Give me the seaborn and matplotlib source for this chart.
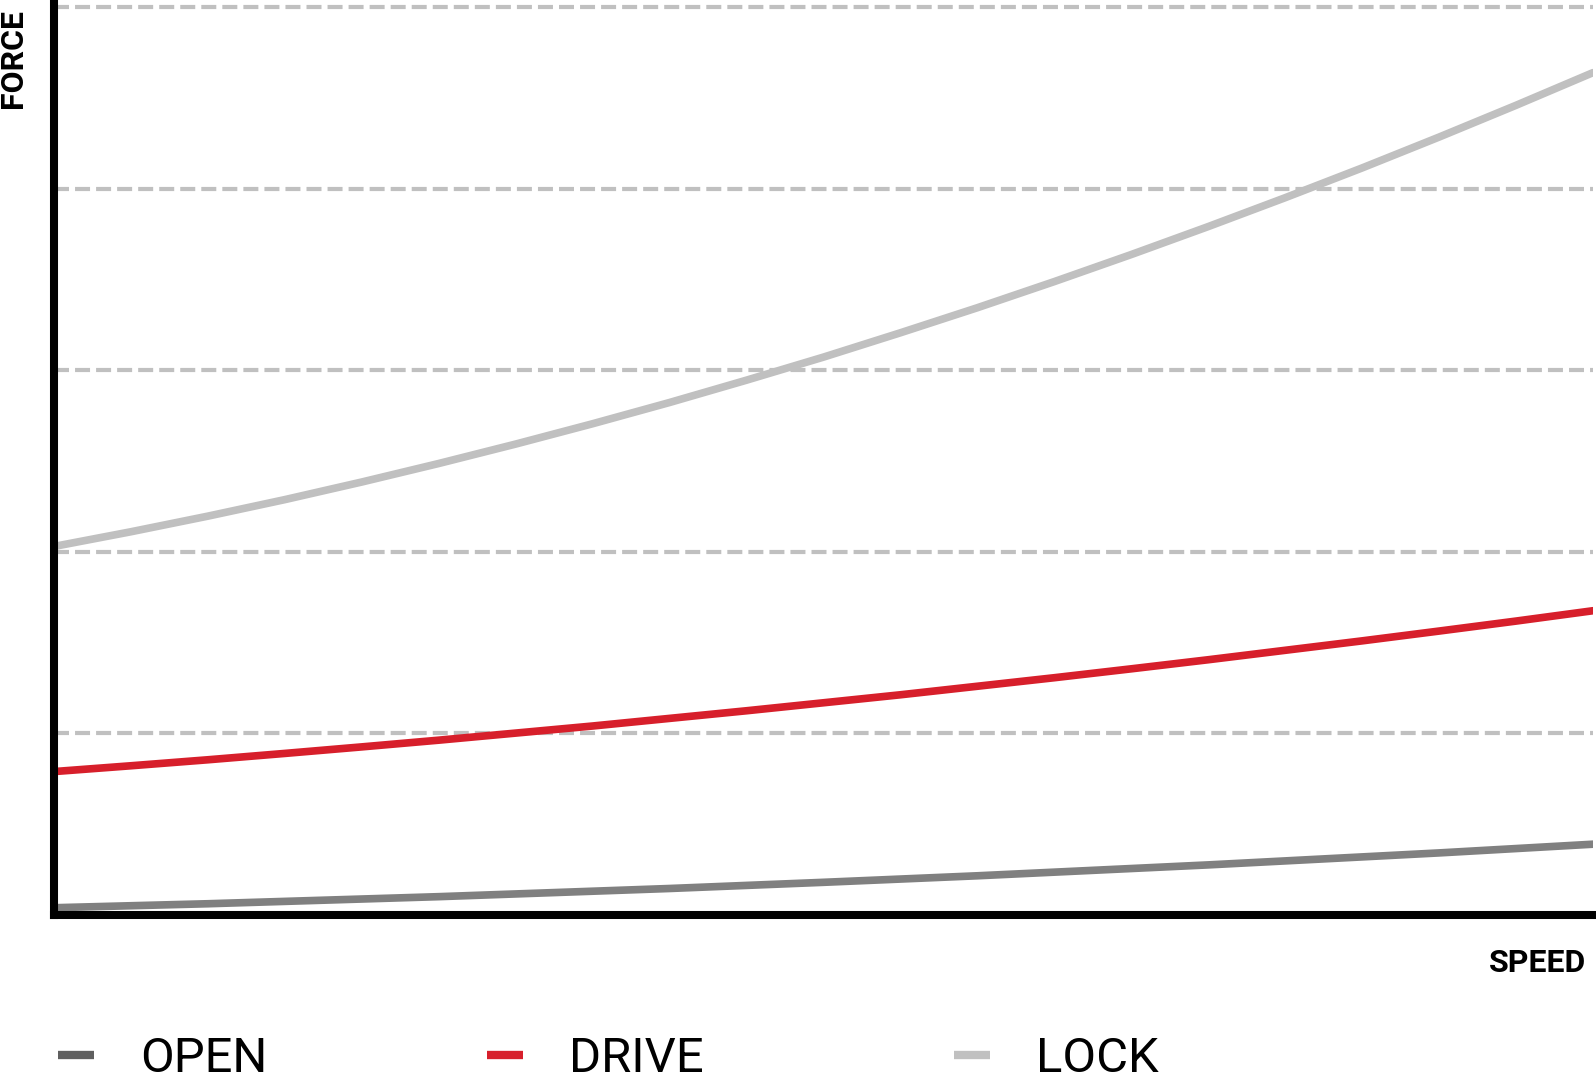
import matplotlib
matplotlib.use('Agg')
import matplotlib.pyplot as plt
from matplotlib.lines import Line2D
import pandas as pd
import seaborn as sns

# values (y axis 0..5 grid steps, x axis 0..20)
speed = list(range(21))
open_force = [0.040, 0.051, 0.062, 0.075, 0.088, 0.101, 0.116, 0.131, 0.146, 0.163, 0.180,
              0.198, 0.216, 0.236, 0.256, 0.276, 0.298, 0.320, 0.342, 0.366, 0.390]
drive_force = [0.790, 0.822, 0.855, 0.890, 0.926, 0.963, 1.002, 1.041, 1.083, 1.125, 1.169,
               1.213, 1.260, 1.307, 1.356, 1.406, 1.458, 1.510, 1.564, 1.619, 1.676]
lock_force = [2.030, 2.111, 2.197, 2.288, 2.385, 2.487, 2.594, 2.706, 2.823, 2.946, 3.073,
              3.207, 3.345, 3.489, 3.638, 3.792, 3.951, 4.115, 4.285, 4.460, 4.640]

series_names = ['OPEN', 'DRIVE', 'LOCK']
line_colors = ['#808080', '#d71f2b', '#c0c0c0']
legend_colors = ['#5f5f5f', '#d71f2b', '#c0c0c0']
legend_x = [58, 487, 954]  # left edge of each legend key, in pixels
grid_levels = [1, 2, 3, 4, 5]

df = pd.DataFrame({
    'speed': speed * 3,
    'force': open_force + drive_force + lock_force,
    'mode': [n for n in series_names for _ in speed],
})

sns.set_style('white')
plt.rcParams['text.color'] = 'black'

fig = plt.figure(figsize=(15.96, 10.77), dpi=100)
ax = fig.add_axes([54 / 1596, 1 - 915 / 1077, 1 - 57 / 1596, 915 / 1077])

sns.lineplot(data=df, x='speed', y='force', hue='mode', hue_order=series_names,
             palette=dict(zip(series_names, line_colors)), linewidth=5.5,
             legend=False, ax=ax)

ax.set_xlim(0, 20)
ax.set_ylim(0, 5.04)
ax.set_yticks(grid_levels)
ax.set_xticks([])
ax.tick_params(axis='y', length=0, labelleft=False)
ax.set_xlabel('')
ax.set_ylabel('')
ax.set_axisbelow(True)
ax.grid(axis='y', color='#c0c0c0', linewidth=3, linestyle=(0, (3.6, 1.45)))

for side in ['top', 'right']:
    ax.spines[side].set_visible(False)
for side in ['left', 'bottom']:
    ax.spines[side].set_color('black')
    ax.spines[side].set_linewidth(5.8)

fig.text(13 / 1596, 1 - 58 / 1077, 'FORCE', rotation=90, ha='center', va='center',
         fontsize=23, fontweight='bold', family='Roboto', color='black')
fig.text(1586 / 1596, 1 - 963 / 1077, 'SPEED', ha='right', va='center',
         fontsize=23, fontweight='bold', family='Roboto', color='black')

# one legend per entry so each key sits where the reference has it
for name, color, x in zip(series_names, legend_colors, legend_x):
    h = Line2D([0], [0], color=color, linewidth=6, solid_capstyle='butt')
    fig.legend([h], [name], loc='center left', bbox_to_anchor=(x / 1596, 18 / 1077),
               frameon=False, borderpad=0, borderaxespad=0,
               handlelength=0.73, handletextpad=0.94, labelcolor='black',
               prop={'family': 'Roboto', 'size': 35.3})

fig.savefig('out.png', dpi=100)
